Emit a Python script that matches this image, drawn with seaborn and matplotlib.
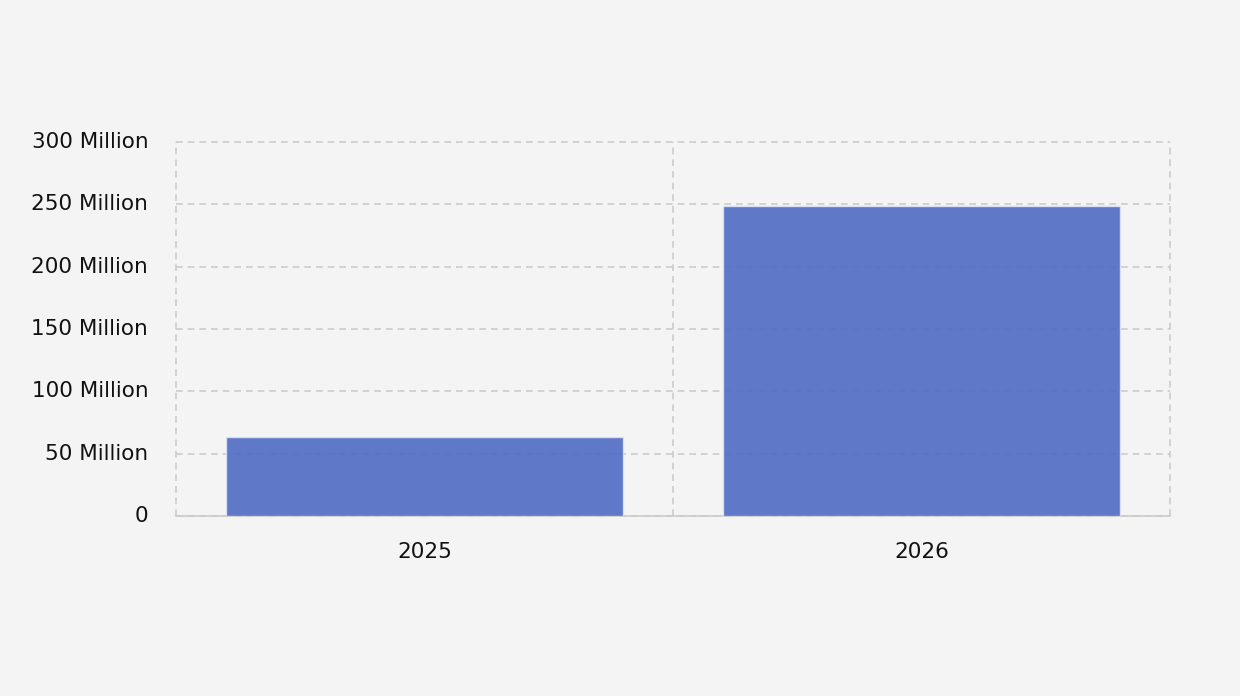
import pandas as pd
import matplotlib.pyplot as plt
import matplotlib.transforms as mtransforms
import seaborn as sns
from matplotlib.ticker import FuncFormatter, FixedLocator

# datos (millones)
anios = ['2025', '2026']
valores = [63, 249]

df = pd.DataFrame({'anio': anios, 'valor': [v * 1e6 for v in valores]})

sns.set_style('white')
plt.rcParams['font.family'] = ['DejaVu Sans']

fig = plt.figure(figsize=(12.4, 6.96), dpi=100, facecolor='#f4f4f4')
ax = fig.add_axes([0.1419, 0.2586, 0.9435 - 0.1419, 0.796 - 0.2586])
ax.set_facecolor('#f4f4f4')

sns.barplot(data=df, x='anio', y='valor', color='#4f6cc4', alpha=0.9, saturation=1,
            width=0.8, edgecolor='#dde3f3', linewidth=1, ax=ax, zorder=3)

ax.set_ylim(0, 300e6)
ax.set_xlim(-0.5, 1.5)
ax.yaxis.set_major_locator(FixedLocator([0, 50e6, 100e6, 150e6, 200e6, 250e6, 300e6]))
ax.yaxis.set_major_formatter(FuncFormatter(lambda v, p: '0' if v == 0 else f'{int(v / 1e6)} Million'))
ax.xaxis.set_minor_locator(FixedLocator([-0.5, 0.5, 1.5]))

ax.grid(axis='y', which='major', color='#cccccc', linestyle=(0, (4, 3)), linewidth=1.2, zorder=1)
ax.grid(axis='x', which='minor', color='#cccccc', linestyle=(0, (4, 3)), linewidth=1.2, zorder=1)
ax.grid(axis='x', which='major', visible=False)

for s in ['top', 'right', 'left']:
    ax.spines[s].set_visible(False)
ax.spines['bottom'].set_color('#cccccc')
ax.spines['bottom'].set_linewidth(1.2)

ax.tick_params(axis='y', length=0, pad=20, labelsize=15.5, labelcolor='#111111')
ax.tick_params(axis='x', which='major', length=6, width=1.2, color='#cccccc', pad=13, labelsize=15.5, labelcolor='#111111')
ax.tick_params(axis='x', which='minor', length=0)
ax.set_xlabel('')
ax.set_ylabel('')

# que las líneas de los bordes no queden cortadas a la mitad
for t in ax.yaxis.get_major_ticks() + ax.xaxis.get_minor_ticks():
    t.gridline.set_clip_on(False)

# subir un poco las etiquetas del eje y
desplazamiento = mtransforms.ScaledTranslation(0, 2 / 100, fig.dpi_scale_trans)
for lbl in ax.get_yticklabels():
    lbl.set_transform(lbl.get_transform() + desplazamiento)

plt.savefig('out.png', dpi=100, facecolor=fig.get_facecolor())
